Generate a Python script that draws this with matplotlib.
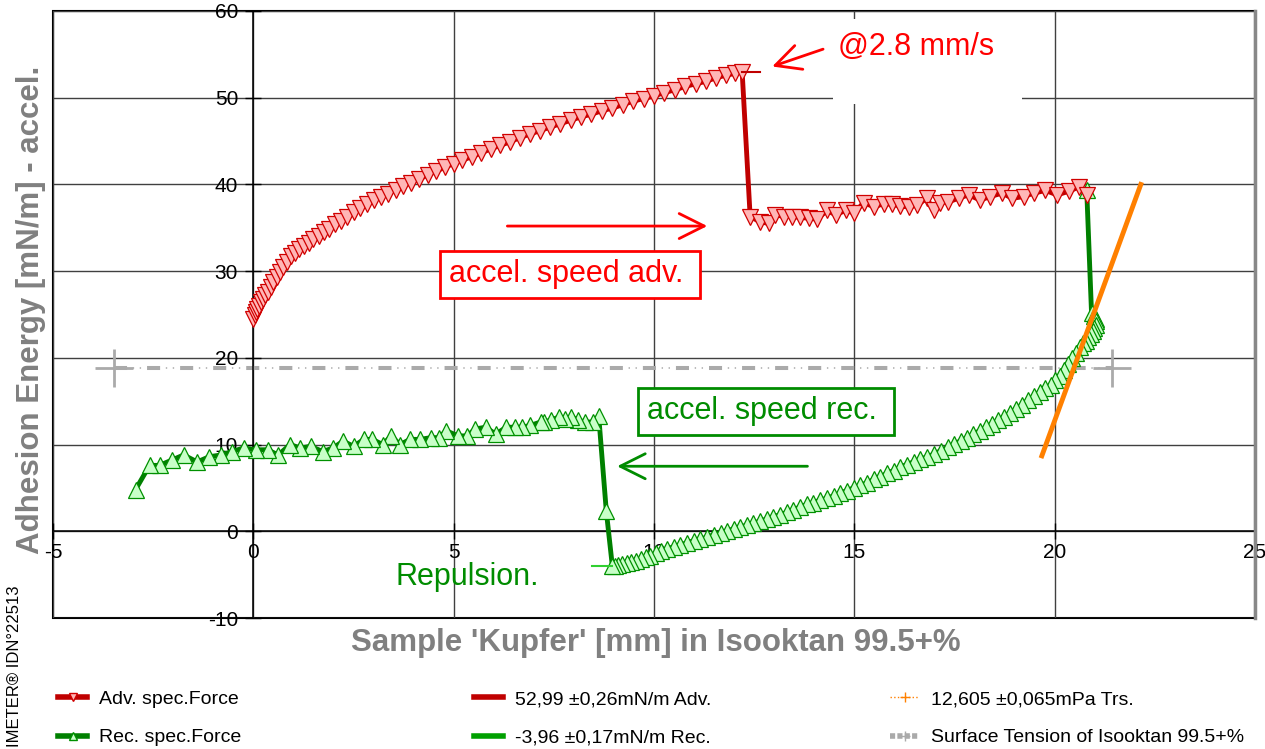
import matplotlib
matplotlib.use('Agg')
import matplotlib.pyplot as plt
from matplotlib.lines import Line2D
from matplotlib.patches import Rectangle

# advancing branch (sample moving in), rising part then the jump
adv_x = [0.00, 0.03, 0.06, 0.10, 0.14, 0.19, 0.24, 0.30, 0.36, 0.43, 0.50, 0.58, 0.66, 0.75,
         0.84, 0.94, 1.04, 1.15, 1.26, 1.38, 1.50, 1.63, 1.76, 1.90, 2.04, 2.19, 2.34, 2.50,
         2.66, 2.83, 3.00, 3.18, 3.36, 3.55, 3.74, 3.94, 4.14, 4.35, 4.56, 4.78, 5.00, 5.22,
         5.45, 5.68, 5.92, 6.16, 6.40, 6.65, 6.90, 7.15, 7.40, 7.66, 7.92, 8.18, 8.44, 8.70,
         8.96, 9.22, 9.48, 9.74, 10.00, 10.26, 10.52, 10.78, 11.04, 11.30, 11.55, 11.80, 12.02,
         12.20,
         12.40, 12.64, 12.86, 13.03, 13.24, 13.44, 13.65, 13.86, 14.07, 14.32, 14.53, 14.78,
         15.00, 15.23, 15.50, 15.73, 15.94, 16.15, 16.36, 16.56, 16.81, 16.98, 17.15, 17.35,
         17.60, 17.85, 18.14, 18.39, 18.69, 18.94, 19.23, 19.48, 19.77, 20.06, 20.35, 20.60,
         20.80]
adv_y = [24.5, 24.9, 25.3, 25.6, 26.0, 26.4, 26.8, 27.2, 27.6, 28.2, 28.7, 29.3, 29.9, 30.5,
         31.1, 31.7, 32.1, 32.5, 32.9, 33.3, 33.7, 34.0, 34.5, 34.9, 35.4, 35.8, 36.3, 36.8,
         37.3, 37.8, 38.2, 38.6, 38.9, 39.4, 39.8, 40.2, 40.6, 41.1, 41.5, 42.0, 42.4, 42.8,
         43.2, 43.6, 44.1, 44.5, 44.9, 45.4, 45.8, 46.2, 46.6, 47.0, 47.4, 47.8, 48.1, 48.5,
         48.8, 49.2, 49.6, 49.9, 50.2, 50.6, 50.9, 51.3, 51.6, 51.9, 52.3, 52.6, 52.8,
         53.0,
         36.3, 35.7, 35.5, 36.5, 36.3, 36.3, 36.2, 36.1, 36.0, 37.0, 36.5, 37.0,
         36.7, 37.9, 37.4, 37.8, 37.7, 37.5, 37.4, 37.6, 38.4, 37.0, 37.9, 38.0,
         38.4, 38.8, 38.2, 38.6, 39.0, 38.4, 38.6, 39.0, 39.3, 38.8, 39.2, 39.7,
         38.8]

# receding branch (sample moving out)
rec_x = [20.80, 20.92, 20.98, 21.02, 21.04, 21.02, 20.99, 20.95, 20.90, 20.84, 20.77, 20.70,
         20.62, 20.53, 20.44, 20.34, 20.24, 20.13, 20.02, 19.90, 19.77, 19.63, 19.48, 19.33,
         19.18, 19.03, 18.88, 18.73, 18.58, 18.43, 18.28, 18.13, 17.97, 17.81, 17.65, 17.49,
         17.33, 17.16, 16.99, 16.82, 16.65, 16.48, 16.31, 16.15, 15.98, 15.82, 15.65, 15.49,
         15.32, 15.15, 14.98, 14.82, 14.65, 14.49, 14.32, 14.15, 13.98, 13.82, 13.65, 13.48,
         13.32, 13.15, 12.98, 12.82, 12.65, 12.48, 12.32, 12.15, 11.99, 11.82, 11.66, 11.49,
         11.32, 11.16, 10.99, 10.83, 10.66, 10.50, 10.33, 10.18, 10.04, 9.91, 9.79, 9.67,
         9.55, 9.43, 9.32, 9.21, 9.10, 9.02, 8.96,
         8.81, 8.62, 8.49, 8.28, 8.11, 7.94, 7.77, 7.64, 7.42, 7.25, 7.17, 6.91, 6.70, 6.52,
         6.31, 6.05, 5.80, 5.54, 5.33, 5.11, 4.81, 4.64, 4.43, 4.17, 3.91, 3.66, 3.44, 3.23,
         2.97, 2.76, 2.50, 2.24, 1.99, 1.73, 1.43, 1.17, 0.92, 0.62, 0.36, 0.06, -0.24,
         -0.54, -0.80, -1.10, -1.40, -1.74, -2.04, -2.34, -2.59, -2.94]
rec_y = [39.3, 25.2, 24.8, 24.5, 24.2, 23.8, 23.5, 23.1, 22.8, 22.4, 22.0, 21.7,
         21.3, 20.6, 20.0, 19.3, 18.6, 17.9, 17.4, 16.9, 16.5, 16.1, 15.6, 15.1,
         14.6, 14.1, 13.6, 13.2, 12.8, 12.4, 12.0, 11.6, 11.2, 10.8, 10.4, 10.1,
         9.7, 9.3, 8.9, 8.6, 8.3, 8.0, 7.7, 7.4, 7.0, 6.7, 6.3, 6.0,
         5.6, 5.3, 5.0, 4.7, 4.4, 4.1, 3.8, 3.6, 3.3, 3.1, 2.8, 2.5,
         2.2, 1.9, 1.7, 1.4, 1.2, 0.9, 0.7, 0.5, 0.3, 0.0, -0.2, -0.4,
         -0.7, -0.9, -1.1, -1.3, -1.6, -1.8, -2.0, -2.3, -2.5, -2.8, -3.0, -3.2,
         -3.4, -3.5, -3.7, -3.8, -3.9, -4.0, -4.0,
         2.3, 13.3, 12.6, 12.6, 12.8, 13.2, 13.0, 13.2, 12.8, 12.6, 12.6, 12.2, 12.0, 12.0,
         12.0, 11.2, 12.0, 11.8, 11.0, 11.0, 11.6, 10.8, 10.8, 10.6, 10.6, 10.0, 11.0, 10.0,
         10.6, 10.6, 9.8, 10.4, 9.6, 9.2, 9.8, 9.6, 10.0, 8.8, 9.4, 9.4, 9.6,
         9.2, 8.8, 8.6, 8.0, 8.8, 8.2, 7.6, 7.6, 4.8]

# fitted values
adv_fit_x = [12.20, 12.65]
adv_fit_y = [52.99, 52.99]
rec_fit_x = [8.45, 8.95]
rec_fit_y = [-3.96, -3.96]
trs_x = [19.68, 22.15]
trs_y = [8.7, 40.0]
st_x = [-3.49, 21.44]
st_y = [18.8, 18.8]

RED_LINE = '#C00000'
GREEN_LINE = '#008000'
ANN_RED = '#FF0000'
ANN_GREEN = '#008C00'
GRAY = '#AAAAAA'
ORANGE = '#FF8000'

plt.rcParams['font.family'] = ['Liberation Sans', 'DejaVu Sans']
plt.rcParams['lines.scale_dashes'] = False
plt.rcParams['axes.unicode_minus'] = False

W, H = 1265, 749
fig = plt.figure(figsize=(W / 100, H / 100), dpi=100)
ax = fig.add_axes([53 / W, 1 - 618 / H, 1202 / W, 607 / H])
ax.set_xlim(-5, 25)
ax.set_ylim(-10, 60)

# frame plus axes crossing at zero
for s in ['top', 'right']:
    ax.spines[s].set_visible(False)
ax.spines['left'].set_position(('data', 0))
ax.spines['bottom'].set_position(('data', 0))
ax.spines['left'].set_linewidth(1.1)
ax.spines['bottom'].set_linewidth(1.1)
ax.patch.set_edgecolor('black')
ax.patch.set_linewidth(1.5)
ax.axvline(25, color='#888888', lw=2.5, zorder=6, clip_on=False)

ax.set_xticks(range(-5, 26, 5))
ax.set_yticks(range(-10, 61, 10))
ax.grid(True, color='#404040', lw=1.0)
ax.set_axisbelow(True)
ax.tick_params(direction='inout', length=12, width=1, labelsize=15, colors='black')
ax.tick_params(axis='y', pad=5)
ax.tick_params(axis='x', pad=2.5)

# surface tension reference line: thick dashes + thin dots
ax.plot(st_x, st_y, color=GRAY, lw=2.9, dashes=(9.4, 14.4), zorder=2)
ax.plot(st_x, st_y, color=GRAY, lw=1.1, linestyle=(10.3, (1, 4, 1, 17.8)), zorder=2)
ax.plot(st_x, st_y, ls='none', marker='+', ms=27, mew=2, color=GRAY, zorder=2)

ax.plot(rec_x, rec_y, color=GREEN_LINE, lw=3.5, marker='^', ms=11,
        mfc='#C8FFC8', mec='#009000', mew=0.9, zorder=3)
ax.plot(adv_x, adv_y, color=RED_LINE, lw=3.5, marker='v', ms=11,
        mfc='#FFB6B6', mec='#D00000', mew=0.9, zorder=4)
ax.plot(adv_fit_x, adv_fit_y, color=RED_LINE, lw=1.5, zorder=4)
ax.plot(rec_fit_x, rec_fit_y, color='#30D030', lw=1.5, zorder=4)
ax.plot(trs_x, trs_y, color=ORANGE, lw=3.5, zorder=5)

# annotations
arrow = '->,head_length=0.6,head_width=0.3'
ax.annotate('', xy=(12.95, 53.6), xytext=(14.22, 55.6),
            arrowprops=dict(arrowstyle=arrow, color=ANN_RED, lw=2, mutation_scale=30,
                            shrinkA=0, shrinkB=0), zorder=7)
ax.annotate('', xy=(11.33, 35.2), xytext=(6.34, 35.2),
            arrowprops=dict(arrowstyle=arrow, color=ANN_RED, lw=2, mutation_scale=30,
                            shrinkA=0, shrinkB=0), zorder=7)
ax.annotate('', xy=(9.08, 7.5), xytext=(13.83, 7.5),
            arrowprops=dict(arrowstyle=arrow, color=ANN_GREEN, lw=2, mutation_scale=30,
                            shrinkA=0, shrinkB=0), zorder=7)

ax.add_patch(Rectangle((14.47, 49.25), 4.72, 9.8, fc='white', ec='none', zorder=1))
ax.text(14.6, 55.9, '@2.8 mm/s', color=ANN_RED, fontsize=22, ha='left', va='center', zorder=7)
ax.text(7.91, 29.64, 'accel. speed adv. ', color=ANN_RED, fontsize=22, ha='center',
        va='center', zorder=7,
        bbox=dict(boxstyle='square,pad=0.28', fc='white', ec=ANN_RED, lw=2))
ax.text(12.80, 13.84, 'accel. speed rec. ', color=ANN_GREEN, fontsize=22, ha='center',
        va='center', zorder=7,
        bbox=dict(boxstyle='square,pad=0.28', fc='white', ec=ANN_GREEN, lw=2))
ax.text(3.54, -5.3, 'Repulsion.', color=ANN_GREEN, fontsize=22, ha='left', va='center', zorder=7)

# axis titles
fig.text(31 / W, 1 - 310 / H, 'Adhesion Energy [mN/m] - accel.', rotation=90, color='#808080',
         fontsize=22.5, fontweight='bold', ha='center', va='center')
fig.text(656 / W, 1 - 643 / H, "Sample 'Kupfer' [mm] in Isooktan 99.5+%", color='#808080',
         fontsize=22.5, fontweight='bold', ha='center', va='center')
fig.text(14 / W, 2 / H, 'IMETER\u00ae IDN\u00b022513', rotation=90, fontsize=12,
         family=['Liberation Sans Narrow', 'Liberation Sans', 'DejaVu Sans'],
         ha='center', va='bottom')

# legend, three columns
h_adv = Line2D([], [], color=RED_LINE, lw=4, marker='v', ms=6, mfc='#FFB6B6', mec='#D00000')
h_rec = Line2D([], [], color=GREEN_LINE, lw=4, marker='^', ms=6, mfc='#C8FFC8', mec='#009000')
h_afit = Line2D([], [], color=RED_LINE, lw=4)
h_rfit = Line2D([], [], color='#00A000', lw=4)
h_trs = Line2D([], [], color=ORANGE, lw=1, ls=':', marker='+', ms=7)
h_st = Line2D([], [], color=GRAY, lw=4, ls='--', marker='+', ms=7)

cols = [(58, [h_adv, h_rec], ['Adv. spec.Force', 'Rec. spec.Force']),
        (474, [h_afit, h_rfit], ['52,99 \u00b10,26mN/m Adv.', '-3,96 \u00b10,17mN/m Rec.']),
        (890, [h_trs, h_st], ['12,605 \u00b10,065mPa Trs.', 'Surface Tension of Isooktan 99.5+%'])]
for x0, hs, labels in cols:
    fig.legend(hs, labels, loc='center left', bbox_to_anchor=(x0 / W, 1 - 718.5 / H),
               frameon=False, fontsize=14, borderpad=0, borderaxespad=0,
               handlelength=1.5, handletextpad=0.62, labelspacing=1.05, numpoints=1)

fig.savefig('out.png', dpi=100)
